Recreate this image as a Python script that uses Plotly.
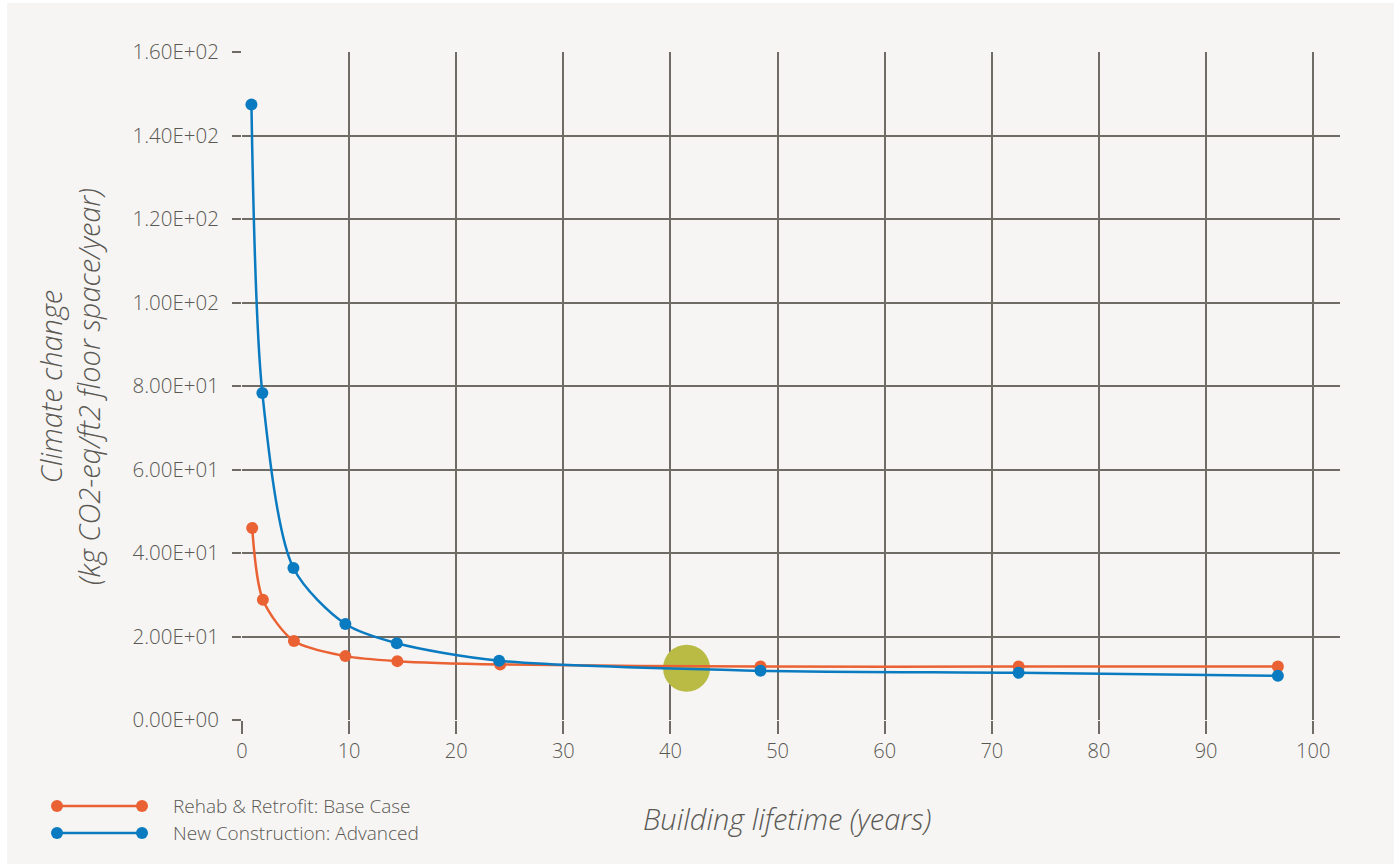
import plotly.graph_objects as go

# Data
rehab_x = [0.95, 1.95, 4.85, 9.65, 14.5, 24.1, 48.4, 72.5, 96.7]
rehab_y = [46.0, 28.8, 18.9, 15.3, 14.1, 13.3, 12.8, 12.8, 12.8]
new_x = [0.88, 1.9, 4.8, 9.65, 14.45, 24.0, 48.4, 72.5, 96.7]
new_y = [147.4, 78.3, 36.4, 23.0, 18.4, 14.2, 11.8, 11.3, 10.6]
cross_x = [41.5]
cross_y = [12.4]

series_names = ["Rehab & Retrofit: Base Case", "New Construction: Advanced"]
x_ticks = list(range(0, 101, 10))
y_ticks = list(range(0, 161, 20))
y_tick_labels = ["%.2fE+%02d" % (v / 10 ** (len(str(v)) - 1), len(str(v)) - 1) if v else "0.00E+00" for v in y_ticks]

ORANGE = "#EA6234"
BLUE = "#0A7BC0"
GREEN = "#B9BB44"
GRID = "#6f6c66"
TEXT = "#5a5853"
FONT = "Open Sans"

fig = go.Figure()
fig.add_trace(go.Scatter(x=cross_x, y=cross_y, mode="markers",
                         marker=dict(size=47, color=GREEN), showlegend=False, hoverinfo="skip"))
fig.add_trace(go.Scatter(x=rehab_x, y=rehab_y, mode="lines+markers", name=series_names[0],
                         line=dict(color=ORANGE, width=2.5, shape="spline", smoothing=0.8),
                         marker=dict(size=12, color=ORANGE), showlegend=False))
fig.add_trace(go.Scatter(x=new_x, y=new_y, mode="lines+markers", name=series_names[1],
                         line=dict(color=BLUE, width=2.5, shape="spline", smoothing=0.8),
                         marker=dict(size=12, color=BLUE), showlegend=False))

# Panel background (paper coordinates relative to plot area)
L, T, PW, PH = 242, 52, 1098, 668
def px(xp): return (xp - L) / PW
def py(yp): return (T + PH - yp) / PH

shapes = [dict(type="rect", xref="paper", yref="paper", x0=px(7), x1=px(1394), y0=py(864), y1=py(3),
               fillcolor="#f6f5f3", line=dict(width=0), layer="below")]
annotations = []
legend_rows = [(806, ORANGE, series_names[0]), (833, BLUE, series_names[1])]
for yy, col, name in legend_rows:
    shapes.append(dict(type="line", xref="paper", yref="paper", x0=px(57), x1=px(142), y0=py(yy), y1=py(yy),
                       line=dict(color=col, width=2.5)))
    for cx in (57, 142):
        shapes.append(dict(type="circle", xref="paper", yref="paper", x0=px(cx - 6), x1=px(cx + 6),
                           y0=py(yy + 6), y1=py(yy - 6), fillcolor=col, line=dict(width=0)))
    annotations.append(dict(xref="paper", yref="paper", x=px(171), y=py(yy), text=name, showarrow=False,
                            xanchor="left", yanchor="middle",
                            font=dict(family=FONT, size=19, color=TEXT, weight=300)))

annotations.append(dict(xref="paper", yref="paper", x=px(787), y=py(818), text="<i>Building lifetime (years)</i>",
                        showarrow=False, xanchor="center", yanchor="middle",
                        font=dict(family=FONT, size=29, color=TEXT, weight=300)))
annotations.append(dict(xref="paper", yref="paper", x=px(69), y=py(387),
                        text="<i>Climate change<br>(kg CO2-eq/ft2 floor space/year)</i>",
                        showarrow=False, xanchor="center", yanchor="middle", textangle=-90,
                        font=dict(family=FONT, size=29, color=TEXT, weight=300)))

fig.update_layout(
    width=1400, height=864,
    margin=dict(l=L, r=1400 - L - PW, t=T, b=864 - T - PH),
    paper_bgcolor="white", plot_bgcolor="rgba(0,0,0,0)",
    shapes=shapes, annotations=annotations, showlegend=False,
    font=dict(family=FONT, color=TEXT),
)
fig.update_xaxes(range=[0, 102.5], tickvals=x_ticks, showgrid=True, gridcolor=GRID, gridwidth=1.5,
                 ticks="outside", ticklen=13, tickcolor=GRID, tickwidth=1.5, zeroline=False,
                 showline=False, tickfont=dict(family=FONT, size=20, color=TEXT, weight=300))
fig.update_yaxes(range=[0, 160], tickvals=y_ticks, ticktext=y_tick_labels, showgrid=True, gridcolor=GRID,
                 gridwidth=1.5, ticks="outside", ticklen=9, tickcolor=GRID, tickwidth=1.5, zeroline=False,
                 showline=False, ticklabelstandoff=9, tickfont=dict(family=FONT, size=20.5, color=TEXT, weight=300))

fig.write_html("out.html", config={"displayModeBar": False},
               post_script="document.body.style.margin='0';document.body.style.overflow='hidden';")
